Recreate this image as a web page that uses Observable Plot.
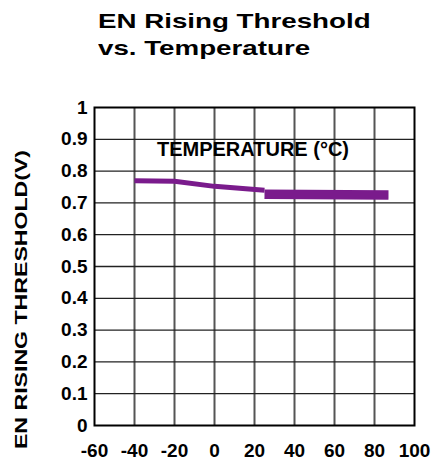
<!DOCTYPE html>
<html><head><meta charset="utf-8">
<script src="https://cdn.jsdelivr.net/npm/d3@7"></script>
<script src="https://cdn.jsdelivr.net/npm/@observablehq/plot@0.6"></script>
<style>
body{margin:0;background:#fff;font-family:"Liberation Sans",Arial,sans-serif;}
#title{height:75px;box-sizing:border-box;padding-top:7px;padding-left:98px;font-weight:bold;font-size:21px;line-height:27px;color:#000;}
#title span{display:inline-block;transform-origin:0 0;transform:scaleX(1.32);white-space:nowrap}
</style></head>
<body>
<div id="title"><span>EN Rising Threshold</span><br><span>vs. Temperature</span></div>
<div id="chart"></div>
<script>
// Data
const temperatureA = [-40, -20, 0, 25];
const thresholdA = [0.770, 0.768, 0.752, 0.740];
const temperatureB = [25, 87];
const thresholdB = [0.727, 0.725];
const xTicks = [-60, -40, -20, 0, 20, 40, 60, 80, 100];
const xLabels = ["-60", "-40", "-20", "0", "20", "40", "60", "80", "100"];
const yTicks = [0, 0.1, 0.2, 0.3, 0.4, 0.5, 0.6, 0.7, 0.8, 0.9, 1];
const yLabels = ["0", "0.1", "0.2", "0.3", "0.4", "0.5", "0.6", "0.7", "0.8", "0.9", "1"];
const yTitle = "EN RISING THRESHOLD(V)";
const innerLabel = "TEMPERATURE (°C)";

const lineA = temperatureA.map((t, i) => ({t, v: thresholdA[i]}));
const lineB = temperatureB.map((t, i) => ({t, v: thresholdB[i]}));
const purple = "#7a1b8c";

const chart = Plot.plot({
  width: 435, height: 391,
  marginTop: 32, marginBottom: 41, marginLeft: 94, marginRight: 21,
  style: {fontFamily: "Liberation Sans, Arial, sans-serif", background: "#fff", color: "#000"},
  x: {domain: [-60, 100], axis: null},
  y: {domain: [0, 1], axis: null},
  marks: [
    Plot.ruleX(xTicks.slice(1, -1), {stroke: "#555", strokeWidth: 2}),
    Plot.ruleY(yTicks.slice(1, -1), {stroke: "#222", strokeWidth: 1.3}),
    Plot.line(lineA, {x: "t", y: "v", stroke: purple, strokeWidth: 5, strokeLinecap: "butt", strokeLinejoin: "round"}),
    Plot.line(lineB, {x: "t", y: "v", stroke: purple, strokeWidth: 9.5, strokeLinecap: "butt"}),
    Plot.frame({stroke: "#000", strokeWidth: 2}),
    Plot.axisX({ticks: xTicks, tickFormat: (d) => xLabels[xTicks.indexOf(d)], tickSize: 0, tickPadding: 18, fontSize: 19, fontWeight: "bold", label: null, ariaLabel: "xlab"}),
    Plot.axisY({ticks: yTicks, tickFormat: (d) => yLabels[yTicks.indexOf(d)], tickSize: 0, tickPadding: 7, fontSize: 19, fontWeight: "bold", label: null, ariaLabel: "ylab"}),
    Plot.text([innerLabel], {frameAnchor: "top", dx: -1.5, dy: 42.5, lineAnchor: "middle", fontSize: 20, fontWeight: "bold", fill: "#000"}),
    Plot.text([yTitle], {frameAnchor: "left", textAnchor: "middle", dx: -73, dy: 33, rotate: -90, lineAnchor: "middle", fontSize: 17, fontWeight: "bold", fill: "#000"})
  ]
});
document.getElementById("chart").appendChild(chart);

function stretchEl(el, s) {
  const tr = el.getAttribute("transform") || "";
  const x = parseFloat(el.getAttribute("x")) || 0;
  el.setAttribute("transform", `${tr} translate(${x},0) scale(${s},1) translate(${-x},0)`);
}
chart.querySelectorAll('g[aria-label="ylab"] text').forEach(el => stretchEl(el, 1.15));
chart.querySelectorAll('g[aria-label="xlab"] text').forEach(el => stretchEl(el, 1.12));
chart.querySelectorAll('text').forEach(el => { if (el.textContent === yTitle) stretchEl(el, 1.36); });
</script>
</body></html>
